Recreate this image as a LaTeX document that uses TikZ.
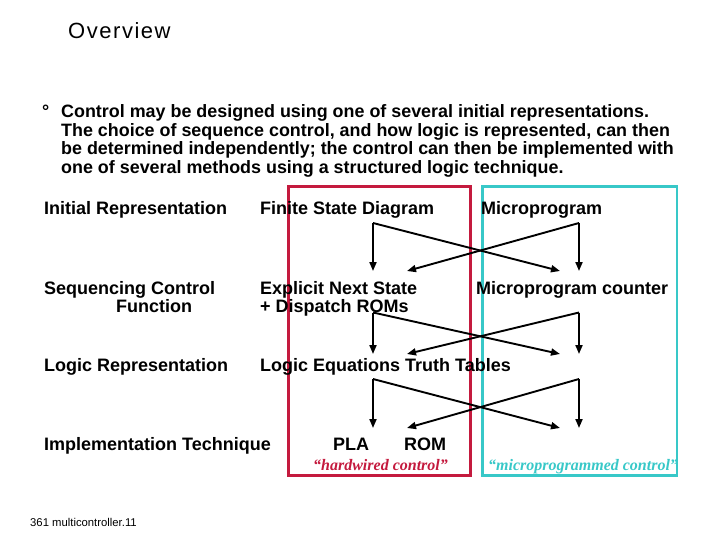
\documentclass[tikz,border=0pt]{standalone}
\usepackage{fontspec}
\setmainfont{Liberation Sans}
\newfontfamily\quotefont{Liberation Serif}
\newfontfamily\titlefont[LetterSpace=7]{Liberation Sans}
\usetikzlibrary{arrows.meta}
\definecolor{boxred}{RGB}{196,26,62}
\definecolor{boxteal}{RGB}{56,200,200}
\tikzset{
  lbl/.style={anchor=base west, inner sep=0pt, font=\fontsize{18}{20}\selectfont\bfseries},
  para/.style={anchor=base west, inner sep=0pt, font=\fontsize{17.9}{20}\selectfont\bfseries},
  quot/.style={anchor=base west, inner sep=0pt, font=\fontsize{16}{18}\selectfont\quotefont\bfseries\itshape},
  arr/.style={line width=1.9pt, -{Triangle[length=9pt,width=7pt]}},
  frame/.style={line width=2.2pt}
}
\begin{document}
\begin{tikzpicture}[x=1pt,y=-1pt]
\useasboundingbox (0,0) rectangle (720,540);
% title
\node[anchor=base west, inner sep=0pt, font=\fontsize{22}{24}\selectfont\titlefont] (title) at (68,39) {Overview};
% paragraph
\node[para] (bullet) at (42,118) {°};
\node[para] (p1) at (61,118) {Control may be designed using one of several initial representations.};
\node[para] (p2) at (61,136.5) {The choice of sequence control, and how logic is represented, can then};
\node[para] (p3) at (61,155) {be determined independently; the control can then be implemented with};
\node[para] (p4) at (61,173.5) {one of several methods using a structured logic technique.};
% frames
\draw[frame, boxred] (288.5,186.5) rectangle (470.5,475.5);
\draw[frame, boxteal] (482.5,186.5) rectangle (677,475.5);
% row labels
\node[lbl] (r1) at (44,214.5) {Initial Representation};
\node[lbl] (r2a) at (44,294.5) {Sequencing Control};
\node[lbl] (r2b) at (116,312.5) {Function};
\node[lbl] (r3) at (44,371.5) {Logic Representation};
\node[lbl] (r4) at (44,450.5) {Implementation Technique};
% column entries
\node[lbl] (fsd) at (260,214.5) {Finite State Diagram};
\node[lbl] (mp) at (481,214.5) {Microprogram};
\node[lbl] (ens) at (260,294.5) {Explicit Next State};
\node[lbl] (dis) at (260,312.5) {+ Dispatch ROMs};
\node[lbl] (mpc) at (476,294.5) {Microprogram counter};
\node[lbl] (leq) at (260,371.5) {Logic Equations Truth Tables};
\node[lbl] (pla) at (333,450.5) {PLA};
\node[lbl] (rom) at (404,450.5) {ROM};
\node[quot, text=boxred] (hw) at (313,470) {“hardwired control”};
\node[quot, text=boxteal] (mpr) at (488,470) {“microprogrammed control”};
% footer
\node[anchor=base west, inner sep=0pt, font=\fontsize{11.3}{13}\selectfont] (foot) at (30,526) {361 multicontroller.11};
% arrow coordinates
\foreach \k/\top/\bot in {a/223/271, b/312.5/354, c/379/428} {
  \coordinate (L\k) at (373,\top);
  \coordinate (R\k) at (579,\top);
  \coordinate (LL\k) at (373,\bot);
  \coordinate (LX\k) at (407,\bot);
  \coordinate (RX\k) at (560,\bot);
  \coordinate (RR\k) at (579,\bot);
  \draw[arr] (L\k) -- (LL\k);
  \draw[arr] (L\k) -- (RX\k);
  \draw[arr] (R\k) -- (RR\k);
  \draw[arr] (R\k) -- (LX\k);
}
\end{tikzpicture}
\end{document}
